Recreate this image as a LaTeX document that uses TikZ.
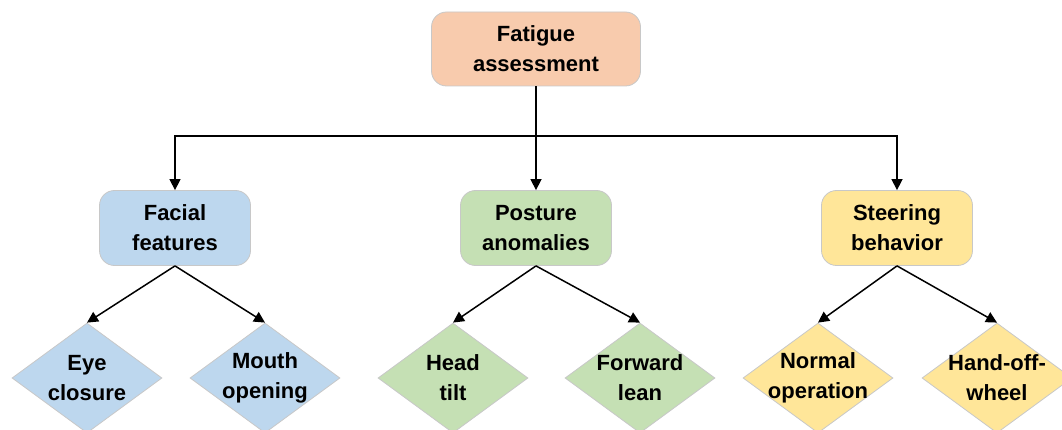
\documentclass[tikz,border=0pt]{standalone}
\usepackage{fontspec}
\setmainfont{Liberation Sans}
\usetikzlibrary{shapes.geometric,arrows.meta}
\definecolor{peach}{HTML}{F8CBAD}
\definecolor{bluef}{HTML}{BDD7EE}
\definecolor{greenf}{HTML}{C5E0B4}
\definecolor{yellowf}{HTML}{FFE699}
\definecolor{edgegray}{HTML}{C8C8C8}
\tikzset{
  box/.style={draw=edgegray, line width=0.8pt, rounded corners=15pt, minimum width=151pt, minimum height=75pt},
  topbox/.style={box, minimum width=209pt, minimum height=74pt},
  dia/.style={draw=edgegray, line width=0.8pt, diamond, minimum width=150pt, minimum height=110pt, inner sep=0pt, aspect=1.3636},
  lbl/.style={font=\fontsize{22}{30}\selectfont\bfseries, align=center, inner sep=0pt, text=black},
  conn/.style={line width=1.5pt, draw=black},
  arr/.style={conn, -{Triangle[length=11pt,width=11pt]}}
}
\begin{document}
\begin{tikzpicture}[x=1pt,y=-1pt]
\useasboundingbox (0,0) rectangle (1062,430);
\clip (0,0) rectangle (1062,430);
% top
\node[topbox, fill=peach] (top) at (536,49) {};
\node[lbl] at (top) {Fatigue\\assessment};
% second level
\node[box, fill=bluef] (face) at (175,228) {};
\node[lbl] at (face) {Facial\\features};
\node[box, fill=greenf] (post) at (536,228) {};
\node[lbl] at (post) {Posture\\anomalies};
\node[box, fill=yellowf] (steer) at (897,228) {};
\node[lbl] at (steer) {Steering\\behavior};
% diamonds
\node[dia, fill=bluef] (eye) at (87,378) {};
\node[lbl] at (eye) {Eye\\closure};
\node[dia, fill=bluef] (mouth) at (265,378) {};
\node[lbl] at (mouth) {Mouth\\opening};
\node[dia, fill=greenf] (head) at (453,378) {};
\node[lbl] at (head) {Head\\tilt};
\node[dia, fill=greenf] (lean) at (640,378) {};
\node[lbl] at (lean) {Forward\\lean};
\node[dia, fill=yellowf] (normal) at (818,378) {};
\node[lbl] at (normal) {Normal\\operation};
\node[dia, fill=yellowf] (hand) at (997,378) {};
\node[lbl] at (hand) {Hand-off-\\wheel};
% connectors
\coordinate (j) at (536,136);
\draw[conn] (top.south) -- (j);
\draw[arr] (j) -- (post.north);
\draw[arr] (j) -| (face.north);
\draw[arr] (j) -| (steer.north);
\draw[arr] (face.south) -- (eye.north);
\draw[arr] (face.south) -- (mouth.north);
\draw[arr] (post.south) -- (head.north);
\draw[arr] (post.south) -- (lean.north);
\draw[arr] (steer.south) -- (normal.north);
\draw[arr] (steer.south) -- (hand.north);
\end{tikzpicture}
\end{document}
